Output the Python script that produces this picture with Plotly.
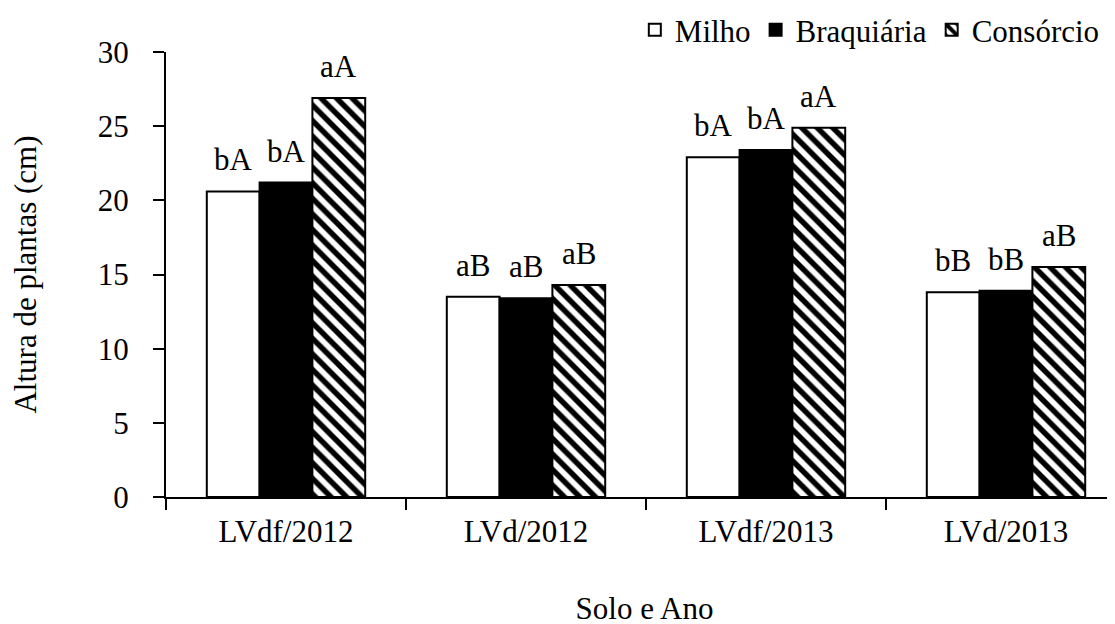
import plotly.graph_objects as go

categories = ["LVdf/2012", "LVd/2012", "LVdf/2013", "LVd/2013"]
series_names = ["Milho", "Braquiária", "Consórcio"]
milho = [20.6, 13.5, 22.9, 13.8]
braquiaria = [21.2, 13.4, 23.4, 13.9]
consorcio = [26.9, 14.3, 24.9, 15.5]
labels_milho = ["bA", "aB", "bA", "bB"]
labels_braquiaria = ["bA", "aB", "bA", "bB"]
labels_consorcio = ["aA", "aB", "aA", "aB"]
y_ticks = [0, 5, 10, 15, 20, 25, 30]

FONT = "Liberation Serif"
bargap = 0.34

values = [milho, braquiaria, consorcio]
texts = [labels_milho, labels_braquiaria, labels_consorcio]
styles = [
    dict(color="white", line=dict(color="black", width=2)),
    dict(color="black", line=dict(color="black", width=2)),
    dict(color="white", line=dict(color="black", width=2),
         pattern=dict(shape="\\", fgcolor="black", bgcolor="white", fgopacity=1,
                      size=11, solidity=0.5)),
]

fig = go.Figure()
for name, vals, st in zip(series_names, values, styles):
    fig.add_trace(go.Bar(x=categories, y=vals, name=name, marker=st))

# letters above bars
n = len(series_names)
w = (1 - bargap) / n
for j, (vals, labs) in enumerate(zip(values, texts)):
    for i, (v, t) in enumerate(zip(vals, labs)):
        fig.add_annotation(x=i + (j - (n - 1) / 2) * w, y=v, text=t, showarrow=False,
                           xref="x", yref="y", yanchor="bottom", yshift=12,
                           font=dict(family=FONT, size=31, color="black"))

fig.update_layout(
    width=1115, height=624,
    margin=dict(l=158, r=0, t=44, b=135, autoexpand=False),
    paper_bgcolor="white", plot_bgcolor="white",
    barmode="group", bargap=bargap, bargroupgap=0,
    font=dict(family=FONT, color="black"),
    showlegend=True,
    legend=dict(orientation="h", x=0.981, xanchor="right", y=1.049, yanchor="middle",
                font=dict(family=FONT, size=31, color="black"),
                bgcolor="rgba(0,0,0,0)", traceorder="normal"),
)
fig.update_xaxes(
    type="category", range=[-0.5, 3.4875], automargin=False,
    showline=True, linecolor="black", linewidth=2,
    ticks="outside", tickson="boundaries", ticklen=11, tickwidth=2, tickcolor="black",
    tickfont=dict(family=FONT, size=31, color="black"),
    ticklabelstandoff=6,
    showgrid=False, zeroline=False,
    title=dict(text="Solo e Ano", font=dict(family=FONT, size=31, color="black"), standoff=49),
)
fig.update_yaxes(
    range=[0, 30], tickvals=y_ticks, automargin=False,
    showline=True, linecolor="black", linewidth=2,
    ticks="outside", ticklen=11, tickwidth=2, tickcolor="black",
    tickfont=dict(family=FONT, size=31, color="black"),
    ticklabelstandoff=18,
    showgrid=False, zeroline=False,
    title=dict(text="Altura de plantas (cm)", font=dict(family=FONT, size=31, color="black"), standoff=56),
)

fig.write_html("out.html")
